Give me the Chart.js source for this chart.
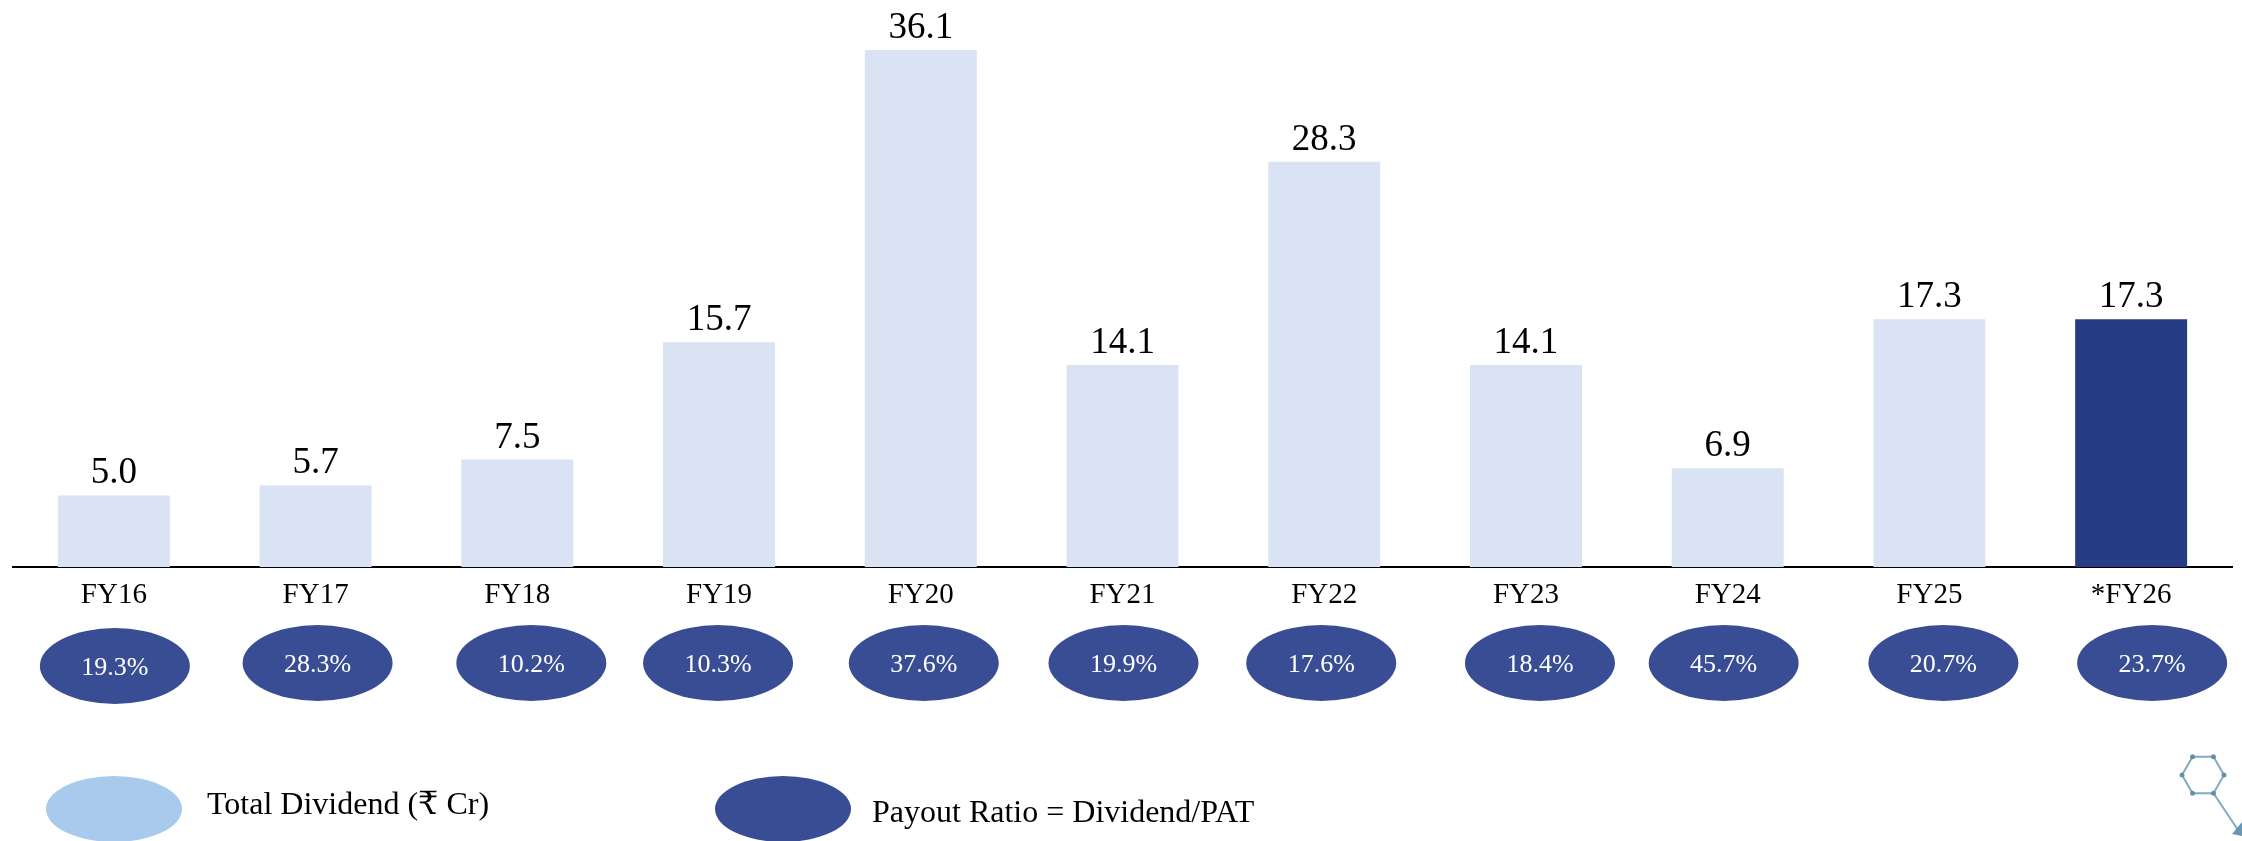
<!DOCTYPE html>
<html>
<head>
<meta charset="utf-8">
<title>Total Dividend</title>
<script src="https://cdn.jsdelivr.net/npm/chart.js@4.4.1/dist/chart.umd.min.js"></script>
<style>
  html, body { margin: 0; padding: 0; background: #ffffff; }
  #wrap { width: 2242px; height: 841px; }
</style>
</head>
<body>
<div id="wrap"><canvas id="dividendChart" width="2242" height="841"></canvas></div>
<script>
// data
const years = ["FY16", "FY17", "FY18", "FY19", "FY20", "FY21", "FY22", "FY23", "FY24", "FY25", "*FY26"];
const totalDividend = [5.0, 5.7, 7.5, 15.7, 36.1, 14.1, 28.3, 14.1, 6.9, 17.3, 17.3];
const payoutRatio = [19.3, 28.3, 10.2, 10.3, 37.6, 19.9, 17.6, 18.4, 45.7, 20.7, 23.7];
const legendLabels = ["Total Dividend (₹ Cr)", "Payout Ratio = Dividend/PAT"];

const serif = "'Liberation Serif', 'DejaVu Serif', serif";
const lightBar = "#DAE3F3";
const darkBar = "#263C86";
const ovalBlue = "#394D94";
const legendLight = "#A8CAEC";

// little nudges so the ovals sit like the hand-placed shapes on the slide
const ovalNudgeX = [1, 2, 14, -1, 3, 1, -3, 14, -4, 14, 21];
const ovalNudgeY = [3, 0, 0, 0, 0, 0, 0, 0, 0, 0, 0];

const barLabels = {
  id: "barLabels",
  afterDatasetsDraw(chart) {
    const ctx = chart.ctx;
    const meta = chart.getDatasetMeta(0);
    ctx.save();
    ctx.font = "37px " + serif;
    ctx.fillStyle = "#000000";
    ctx.textAlign = "center";
    ctx.textBaseline = "alphabetic";
    meta.data.forEach((bar, i) => {
      ctx.fillText(totalDividend[i].toFixed(1), bar.x, bar.y - 12);
    });
    ctx.restore();
  },
};

const payoutOvals = {
  id: "payoutOvals",
  afterDraw(chart) {
    const ctx = chart.ctx;
    const xs = chart.scales.x;
    const base = chart.chartArea.bottom;
    ctx.save();
    payoutRatio.forEach((v, i) => {
      const cx = xs.getPixelForValue(i) + ovalNudgeX[i];
      const cy = base + 96 + ovalNudgeY[i];
      ctx.beginPath();
      ctx.ellipse(cx, cy, 75, 38, 0, 0, Math.PI * 2);
      ctx.fillStyle = ovalBlue;
      ctx.fill();
      ctx.font = "26px " + serif;
      ctx.fillStyle = "#ffffff";
      ctx.textAlign = "center";
      ctx.textBaseline = "middle";
      ctx.fillText(v.toFixed(1) + "%", cx, cy + 2);
    });

    // legend
    const items = [
      { color: legendLight, cx: 114, text: legendLabels[0], tx: 207, base: 814 },
      { color: ovalBlue, cx: 783, text: legendLabels[1], tx: 872, base: 822 },
    ];
    items.forEach((it) => {
      ctx.beginPath();
      ctx.ellipse(it.cx, 809, 68, 33, 0, 0, Math.PI * 2);
      ctx.fillStyle = it.color;
      ctx.fill();
      ctx.font = "32px " + serif;
      ctx.fillStyle = "#000000";
      ctx.textAlign = "left";
      ctx.textBaseline = "alphabetic";
      ctx.fillText(it.text, it.tx, it.base);
    });

    // small molecule logo in the corner
    ctx.strokeStyle = "rgba(90,140,170,0.75)";
    ctx.fillStyle = "rgba(90,140,170,0.9)";
    ctx.lineWidth = 2;
    const hx = 2203, hy = 775, r = 21;
    const pts = [];
    for (let k = 0; k < 6; k++) {
      const a = Math.PI / 3 * k;
      pts.push([hx + r * Math.cos(a), hy + r * Math.sin(a)]);
    }
    ctx.beginPath();
    pts.forEach((p, k) => (k ? ctx.lineTo(p[0], p[1]) : ctx.moveTo(p[0], p[1])));
    ctx.closePath();
    ctx.stroke();
    pts.forEach((p) => {
      ctx.beginPath();
      ctx.arc(p[0], p[1], 2.5, 0, Math.PI * 2);
      ctx.fill();
    });
    ctx.beginPath();
    ctx.moveTo(pts[1][0], pts[1][1]);
    ctx.lineTo(2238, 830);
    ctx.stroke();
    ctx.beginPath();
    ctx.moveTo(2232, 834);
    ctx.lineTo(2242, 822);
    ctx.lineTo(2242, 836);
    ctx.closePath();
    ctx.fill();
    ctx.restore();
  },
};

const cdiv = document.getElementById("dividendChart");
new Chart(cdiv, {
  type: "bar",
  data: {
    labels: years,
    datasets: [
      {
        label: legendLabels[0],
        data: totalDividend,
        backgroundColor: years.map((y, i) => (i === years.length - 1 ? darkBar : lightBar)),
        borderWidth: 0,
        categoryPercentage: 1,
        barPercentage: 0.555,
      },
    ],
  },
  options: {
    responsive: false,
    animation: false,
    layout: { padding: { left: 13, right: 10, top: 0, bottom: 0 } },
    plugins: {
      legend: { display: false },
      tooltip: { enabled: false },
    },
    scales: {
      x: {
        grid: { display: false },
        border: { display: true, color: "#000000", width: 2 },
        ticks: {
          color: "#000000",
          font: { family: serif, size: 29 },
          padding: 3,
          maxRotation: 0,
        },
        afterFit: (s) => {
          s.height = 274;
        },
      },
      y: {
        display: false,
        min: 0,
        max: 39.6,
      },
    },
  },
  plugins: [barLabels, payoutOvals],
});
</script>
</body>
</html>
